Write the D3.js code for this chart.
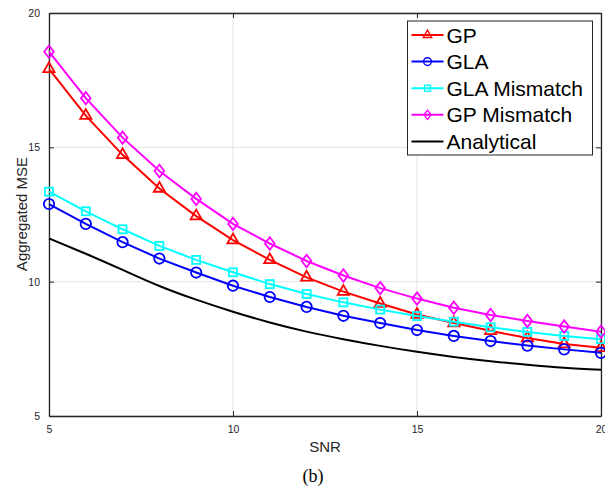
<!DOCTYPE html>
<html>
<head>
<meta charset="utf-8">
<script src="https://cdn.jsdelivr.net/npm/d3@7"></script>
<style>
  body { margin: 0; background: #fff; }
  svg { display: block; font-family: "Liberation Sans", Arial, sans-serif; }
  .tick-label { font-size: 10.5px; fill: #262626; }
  .axis-label { font-size: 15px; fill: #262626; }
  .legend-text { font-size: 21px; fill: #000; }
</style>
</head>
<body>
<div id="wrapper"></div>
<script>
const snr = [5, 6, 7, 8, 9, 10, 11, 12, 13, 14, 15, 16, 17, 18, 19, 20]

const gp = [17.92, 16.18, 14.72, 13.47, 12.44, 11.55, 10.81, 10.16, 9.63, 9.19, 8.78, 8.46, 8.17, 7.9, 7.68, 7.54]
const gla = [12.89, 12.15, 11.47, 10.86, 10.34, 9.85, 9.43, 9.06, 8.73, 8.46, 8.2, 7.98, 7.79, 7.62, 7.48, 7.35]
const glaMismatch = [13.35, 12.62, 11.95, 11.33, 10.81, 10.35, 9.91, 9.54, 9.23, 8.96, 8.72, 8.51, 8.3, 8.13, 7.98, 7.86]
const gpMismatch = [18.56, 16.83, 15.36, 14.12, 13.08, 12.15, 11.42, 10.77, 10.23, 9.76, 9.37, 9.03, 8.76, 8.54, 8.33, 8.14]
const analytical = [11.61, 11.04, 10.44, 9.84, 9.33, 8.88, 8.48, 8.14, 7.86, 7.61, 7.39, 7.2, 7.04, 6.91, 6.8, 6.72]

const xTicks = [5, 10, 15, 20]
const yTicks = [5, 10, 15, 20]

const series = [
  { name: "GP", values: gp, color: "#ff0000", marker: "triangle" },
  { name: "GLA", values: gla, color: "#0000ff", marker: "circle" },
  { name: "GLA Mismatch", values: glaMismatch, color: "#00ffff", marker: "square" },
  { name: "GP Mismatch", values: gpMismatch, color: "#ff00ff", marker: "diamond" },
  { name: "Analytical", values: analytical, color: "#000000", marker: null }
]

const dimensions = {
  width: 605,
  height: 489,
  margin: { top: 13, right: 4, bottom: 73, left: 49 }
}
dimensions.boundedWidth = dimensions.width - dimensions.margin.left - dimensions.margin.right
dimensions.boundedHeight = dimensions.height - dimensions.margin.top - dimensions.margin.bottom

const xScale = d3.scaleLinear().domain([5, 20]).range([0, dimensions.boundedWidth])
const yScale = d3.scaleLinear().domain([5, 20]).range([dimensions.boundedHeight, 0])

const svg = d3.select("#wrapper").append("svg")
    .attr("width", dimensions.width)
    .attr("height", dimensions.height)

const bounds = svg.append("g")
    .attr("transform", `translate(${dimensions.margin.left},${dimensions.margin.top})`)

// grid
bounds.append("g").selectAll("line").data(xTicks).join("line")
    .attr("x1", d => xScale(d)).attr("x2", d => xScale(d))
    .attr("y1", 0).attr("y2", dimensions.boundedHeight)
    .attr("stroke", "#e3e3e3").attr("stroke-width", 1)
bounds.append("g").selectAll("line").data(yTicks).join("line")
    .attr("y1", d => yScale(d)).attr("y2", d => yScale(d))
    .attr("x1", 0).attr("x2", dimensions.boundedWidth)
    .attr("stroke", "#e3e3e3").attr("stroke-width", 1)

// axes (ticks pointing inward, box all round)
const axisColor = "#262626"
function styleAxis(g) {
  g.select(".domain").attr("stroke", axisColor).attr("stroke-width", 1.3)
  g.selectAll(".tick line").attr("stroke", axisColor)
  g.selectAll(".tick text").attr("class", "tick-label").attr("fill", axisColor)
    .style("font-family", "'Liberation Sans', Arial, sans-serif")
}

bounds.append("g")
    .attr("transform", `translate(0,${dimensions.boundedHeight})`)
    .call(d3.axisBottom(xScale).tickValues(xTicks).tickSize(-5).tickPadding(10).tickSizeOuter(0))
    .call(styleAxis)
bounds.append("g")
    .call(d3.axisTop(xScale).tickValues(xTicks).tickSize(-5).tickFormat("").tickSizeOuter(0))
    .call(styleAxis)
bounds.append("g")
    .call(d3.axisLeft(yScale).tickValues(yTicks).tickSize(-5).tickPadding(9).tickSizeOuter(0))
    .call(styleAxis)
bounds.append("g")
    .attr("transform", `translate(${dimensions.boundedWidth},0)`)
    .call(d3.axisRight(yScale).tickValues(yTicks).tickSize(-5).tickFormat("").tickSizeOuter(0))
    .call(styleAxis)

// lines
const lineGenerator = d3.line()
    .x((d, i) => xScale(snr[i]))
    .y(d => yScale(d))

function drawMarker(g, type, color) {
  if (type === "triangle") {
    g.append("path").attr("d", "M0,-6.5L5.6,3.3L-5.6,3.3Z")
  } else if (type === "circle") {
    g.append("circle").attr("r", 5.2)
  } else if (type === "square") {
    g.append("rect").attr("x", -4).attr("y", -4).attr("width", 8).attr("height", 8)
  } else if (type === "diamond") {
    g.append("path").attr("d", "M0,-6.2L4.8,0L0,6.2L-4.8,0Z")
  }
  g.selectAll("*").attr("fill", "none").attr("stroke", color).attr("stroke-width", 1.8)
}

series.forEach(s => {
  bounds.append("path")
      .attr("d", lineGenerator.curve(s.marker ? d3.curveLinear : d3.curveNatural)(s.values))
      .attr("fill", "none")
      .attr("stroke", s.color)
      .attr("stroke-width", 2)
  if (s.marker) {
    s.values.forEach((v, i) => {
      const m = bounds.append("g")
          .attr("transform", `translate(${xScale(snr[i])},${yScale(v)})`)
      drawMarker(m, s.marker, s.color)
    })
  }
})

// axis labels
svg.append("text")
    .attr("class", "axis-label")
    .attr("x", 325).attr("y", 451.5)
    .attr("text-anchor", "middle")
    .text("SNR")
svg.append("text")
    .attr("class", "axis-label")
    .attr("transform", "translate(26.5,214) rotate(-90)")
    .attr("text-anchor", "middle")
    .text("Aggregated MSE")
svg.append("text")
    .attr("x", 313).attr("y", 481.5)
    .attr("text-anchor", "middle")
    .style("font-family", "'Liberation Serif', 'Times New Roman', serif")
    .style("font-size", "18px")
    .text("(b)")

// legend
const legend = svg.append("g").attr("transform", "translate(407.5,21)")
legend.append("rect")
    .attr("width", 185).attr("height", 134)
    .attr("fill", "#fff").attr("stroke", "#262626").attr("stroke-width", 1)
series.forEach((s, i) => {
  const y = 14 + i * 26.6
  const row = legend.append("g").attr("transform", `translate(0,${y})`)
  row.append("line")
      .attr("x1", 4).attr("x2", 36).attr("y1", 0).attr("y2", 0)
      .attr("stroke", s.color).attr("stroke-width", 2)
  if (s.marker) {
    const m = row.append("g").attr("transform", "translate(20,0) scale(0.75)")
    drawMarker(m, s.marker, s.color)
  }
  row.append("text")
      .attr("class", "legend-text")
      .attr("x", 39).attr("y", 7.5)
      .text(s.name)
})
</script>
</body>
</html>
